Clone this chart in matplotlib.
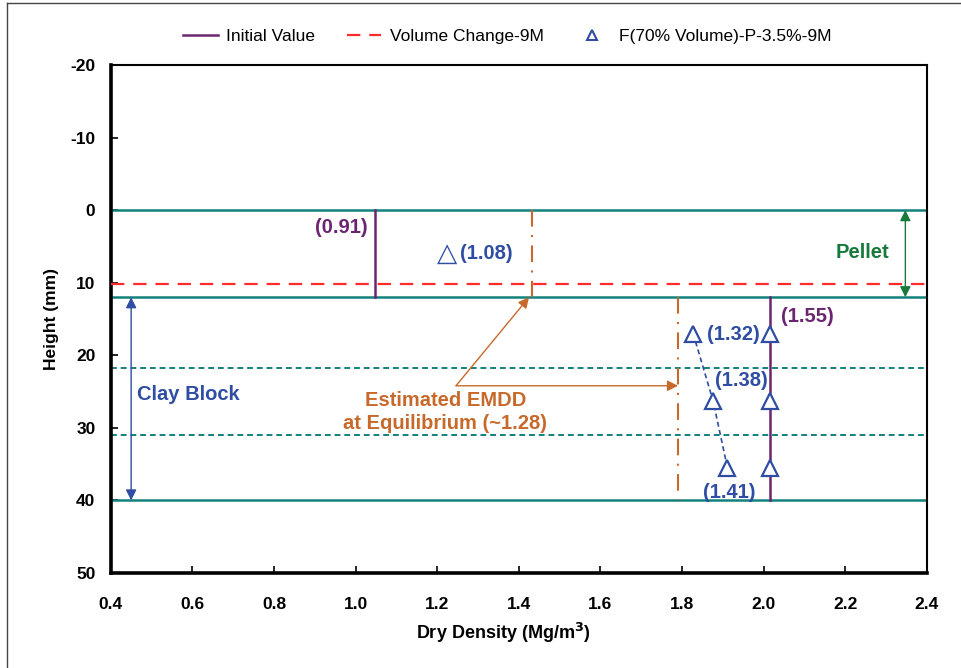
import matplotlib
matplotlib.use("Agg")
import matplotlib.pyplot as plt
from matplotlib.lines import Line2D

plt.rcParams["font.family"] = ["Liberation Sans", "DejaVu Sans"]
plt.rcParams["axes.unicode_minus"] = False

# boundaries (mm)
pellet_top, pellet_bot = 0, 12
block_bot = 40
layer_lines = [21.7, 31.0]
swell_line = 10.2

# initial dry density (x) and extents
init_pellet_x = 1.048
init_block_x = 2.016

# EMDD estimate positions
emdd_pellet_x = 1.432
emdd_block_x = 1.79

# F(70% Volume)-P-3.5%-9M measured points
meas_x = [1.827, 1.876, 1.911]
meas_h = [17.0, 26.3, 35.5]
meas_lbl = ["(1.32)", "(1.38)", "(1.41)"]
init_pts_h = [17.0, 26.3, 35.5]

xticks = [0.4, 0.6, 0.8, 1.0, 1.2, 1.4, 1.6, 1.8, 2.0, 2.2, 2.4]
yticks = [-20, -10, 0, 10, 20, 30, 40, 50]

TEAL = "#13817c"
PURPLE = "#6a2570"
RED = "#ff2b2b"
BLUE = "#2f4ea3"
ORANGE = "#c8692c"
GREEN = "#177a3c"

fig = plt.figure(figsize=(9.62, 6.68), dpi=100)
ax = fig.add_axes([0.1151, 0.1422, 0.8485, 0.7605])

for h in [pellet_top, pellet_bot, block_bot]:
    ax.axhline(h, color=TEAL, lw=1.8, zorder=2)
for h in layer_lines:
    ax.axhline(h, color=TEAL, lw=1.4, ls=(0, (3, 2)), zorder=2)
ax.axhline(swell_line, color=RED, lw=1.6, ls=(0, (6, 4)), zorder=3)

ax.plot([init_pellet_x, init_pellet_x], [pellet_top, pellet_bot], color=PURPLE, lw=1.8, zorder=4)
ax.plot([init_block_x, init_block_x], [pellet_bot, block_bot], color=PURPLE, lw=1.8, zorder=4)

ax.plot([emdd_pellet_x, emdd_pellet_x], [pellet_top, pellet_bot], color=ORANGE, lw=1.5,
        ls=(0, (8, 4, 1, 4)), zorder=4)
ax.plot([emdd_block_x, emdd_block_x], [pellet_bot, block_bot], color=ORANGE, lw=1.5,
        ls=(0, (8, 4, 1, 4)), zorder=4)

ax.plot(meas_x, meas_h, color=BLUE, lw=1.2, ls=(0, (3, 2)), zorder=5)
ax.plot(meas_x, meas_h, ls="none", marker="^", ms=11, mfc="white", mec=BLUE, mew=1.6, zorder=6)
ax.plot([init_block_x] * 3, init_pts_h, ls="none", marker="^", ms=11, mfc="white", mec=BLUE,
        mew=1.6, zorder=6)

bold = dict(fontsize=14.5, fontweight="bold")
ax.text(1.03, 2.4, "(0.91)", color=PURPLE, ha="right", va="center", **bold)
ax.text(1.224, 6.0, "\u25b3", color=BLUE, ha="center", va="center", fontsize=19,
        family=["DejaVu Sans"])
ax.text(1.255, 6.0, "(1.08)", color=BLUE, ha="left", va="center", **bold)
ax.text(2.043, 14.6, "(1.55)", color=PURPLE, ha="left", va="center", **bold)
for x, h, t, dy in zip([1.862, 1.88, 1.85], meas_h, meas_lbl, [0.2, -2.8, 3.4]):
    ax.text(x, h + dy, t, color=BLUE, ha="left", va="center", **bold)
ax.text(2.175, 5.8, "Pellet", color=GREEN, ha="left", va="center", **bold)
ax.text(0.465, 25.4, "Clay Block", color=BLUE, ha="left", va="center", **bold)
ax.text(1.22, 27.8, "Estimated EMDD\nat Equilibrium (~1.28)", color=ORANGE, ha="center",
        va="center", linespacing=1.3, **bold)

ax.annotate("", xy=(2.347, pellet_top), xytext=(2.347, pellet_bot),
            arrowprops=dict(arrowstyle="<|-|>", color=GREEN, lw=1.0, mutation_scale=16,
                            shrinkA=0, shrinkB=0), zorder=7)
ax.annotate("", xy=(0.45, pellet_bot), xytext=(0.45, block_bot),
            arrowprops=dict(arrowstyle="<|-|>", color=BLUE, lw=1.0, mutation_scale=16,
                            shrinkA=0, shrinkB=0), zorder=7)
for tx, ty in [(1.425, 12.0), (1.79, 24.2)]:
    ax.annotate("", xy=(tx, ty), xytext=(1.246, 24.2),
                arrowprops=dict(arrowstyle="-|>", color=ORANGE, lw=1.0, mutation_scale=16,
                                shrinkA=0, shrinkB=0), zorder=7)

ax.set_xlim(0.4, 2.4)
ax.set_ylim(50, -20)
ax.set_xticks(xticks)
ax.set_xticklabels([f"{v:.1f}" for v in xticks])
ax.set_yticks(yticks)
ax.tick_params(direction="in", length=5, width=1.2, labelsize=12.5)
ax.tick_params(axis="x", pad=17)
ax.tick_params(axis="y", pad=11)
for lbl in ax.get_xticklabels() + ax.get_yticklabels():
    lbl.set_fontweight("bold")
for s in ["left", "bottom"]:
    ax.spines[s].set_linewidth(2.6)
for s in ["top", "right"]:
    ax.spines[s].set_linewidth(1.5)
ax.set_xlabel("Dry Density (Mg/m$^\\mathbf{3}$)", fontsize=13, fontweight="bold", labelpad=7)
ax.xaxis.set_label_coords(0.481, -0.095)
ax.set_ylabel("Height (mm)", fontsize=12.5, fontweight="bold", labelpad=8)

handles = [
    Line2D([], [], color=PURPLE, lw=1.8),
    Line2D([], [], color=RED, lw=1.6, ls=(0, (6, 4))),
    Line2D([], [], ls="none", marker="^", ms=7, mfc="white", mec=BLUE, mew=1.5),
]
labels = ["Initial Value", "Volume Change-9M", "F(70% Volume)-P-3.5%-9M"]
fig.legend(handles, labels, loc="center", bbox_to_anchor=(0.527, 0.946), ncol=3, frameon=False,
           fontsize=12.5, handlelength=2.0, handletextpad=0.5, columnspacing=1.8)

fig.add_artist(Line2D([7 / 962, 7 / 962], [0, 1 - 3 / 668], color="#444444", lw=1.0))
fig.add_artist(Line2D([7 / 962, 1], [1 - 3 / 668, 1 - 3 / 668], color="#444444", lw=1.0))

fig.savefig("out.png", dpi=100)
